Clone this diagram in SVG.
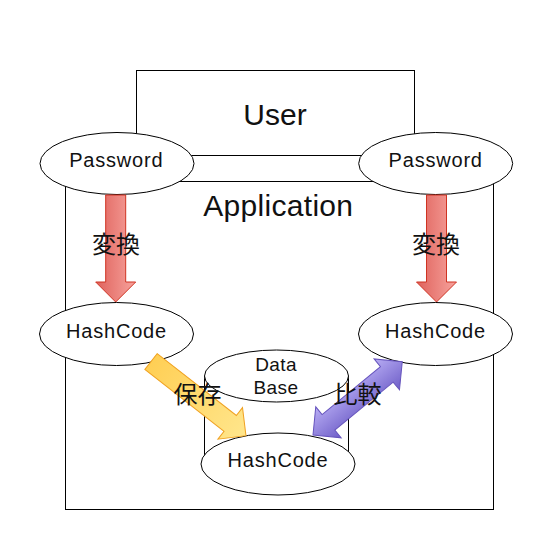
<svg xmlns="http://www.w3.org/2000/svg" width="542" height="539" viewBox="0 0 542 539">
  <defs>
    <linearGradient id="gRed" x1="0" y1="0" x2="1" y2="0">
      <stop offset="0" stop-color="#df625c"/>
      <stop offset="1" stop-color="#f7a39d"/>
    </linearGradient>
    <linearGradient id="gYel" x1="0" y1="0" x2="1" y2="0">
      <stop offset="0" stop-color="#ffcf55"/>
      <stop offset="1" stop-color="#ffe68c"/>
    </linearGradient>
    <linearGradient id="gPur" x1="0" y1="0" x2="0" y2="1">
      <stop offset="0" stop-color="#b8adf4"/>
      <stop offset="1" stop-color="#6f5fc8"/>
    </linearGradient>
  </defs>
  <style>
    .box { fill: #ffffff; stroke: #000000; stroke-width: 1; }
    .node { fill: #ffffff; stroke: #000000; stroke-width: 1; }
    .side { fill: none; stroke: #000000; stroke-width: 1; }
    .lat { font-family: "Liberation Sans", Arial, sans-serif; fill: #111111; text-anchor: middle; }
    .big { font-size: 30px; }
    .app { letter-spacing: 0.3px; }
    .mid { font-size: 20px; letter-spacing: 0.8px; }
    .db { font-size: 19px; letter-spacing: 0.4px; }
    .cjk { font-family: "Noto Sans CJK JP", "Noto Sans CJK SC", sans-serif; font-size: 24px; fill: #111111; text-anchor: middle; }
    .red { fill: url(#gRed); stroke: #cf3322; stroke-width: 1; }
    .yel { fill: url(#gYel); stroke: #f0a222; stroke-width: 1; }
    .pur { fill: url(#gPur); stroke: #6553bd; stroke-width: 1; }
  </style>
  <rect width="542" height="539" fill="#ffffff"/>

  <g id="application">
    <rect class="box" x="65.5" y="181.5" width="428" height="328"/>
    <text class="lat big app" x="278.3" y="215.7">Application</text>
  </g>
  <g id="user">
    <rect class="box" x="136.5" y="70.5" width="278" height="85"/>
    <text class="lat big" x="275" y="125">User</text>
  </g>

  <g id="database">
    <path class="side" d="M204.5,376 L204.5,462 M348.5,376 L348.5,462"/>
    <ellipse class="node" cx="276.5" cy="376" rx="72" ry="26"/>
    <text class="lat db" x="276" y="371">Data</text>
    <text class="lat db" x="276" y="394">Base</text>
  </g>

  <g id="password-left">
    <ellipse class="node" cx="117" cy="163.5" rx="77" ry="31"/>
    <text class="lat mid" x="116.3" y="167.3">Password</text>
  </g>
  <g id="password-right">
    <ellipse class="node" cx="435.7" cy="163.5" rx="77" ry="31"/>
    <text class="lat mid" x="435.7" y="167.3">Password</text>
  </g>
  <g id="hashcode-left">
    <ellipse class="node" cx="116.5" cy="334" rx="77" ry="31.5"/>
    <text class="lat mid" x="116.5" y="338.3">HashCode</text>
  </g>
  <g id="hashcode-right">
    <ellipse class="node" cx="435.5" cy="334" rx="77" ry="31.5"/>
    <text class="lat mid" x="435.5" y="338.3">HashCode</text>
  </g>
  <g id="hashcode-db">
    <ellipse class="node" cx="278" cy="464" rx="77" ry="31"/>
    <text class="lat mid" x="278" y="467">HashCode</text>
  </g>

  <g id="connectors">
    <polygon class="red" points="105.7,195 125.7,195 125.7,282 135.7,282 115.7,302 95.7,282 105.7,282"/>
    <polygon class="red" points="426.5,195 446.5,195 446.5,282 456.5,282 436.5,302 416.5,282 426.5,282"/>
    <polygon class="yel" transform="translate(151,361.5) rotate(38)" points="0,-10 100.5,-10 100.5,-20 120.5,0 100.5,20 100.5,10 0,10"/>
    <polygon class="pur" transform="translate(313,435) rotate(-39.4)" points="0,0 20,-20 20,-10 95.5,-10 95.5,-20 115.5,0 95.5,20 95.5,10 20,10 20,20"/>
  </g>

  <g id="labels">
    <text class="cjk" x="116" y="253">変換</text>
    <text class="cjk" x="436" y="253">変換</text>
    <text class="cjk" x="197.5" y="402.5">保存</text>
    <text class="cjk" x="357.5" y="402.5">比較</text>
  </g>
</svg>
